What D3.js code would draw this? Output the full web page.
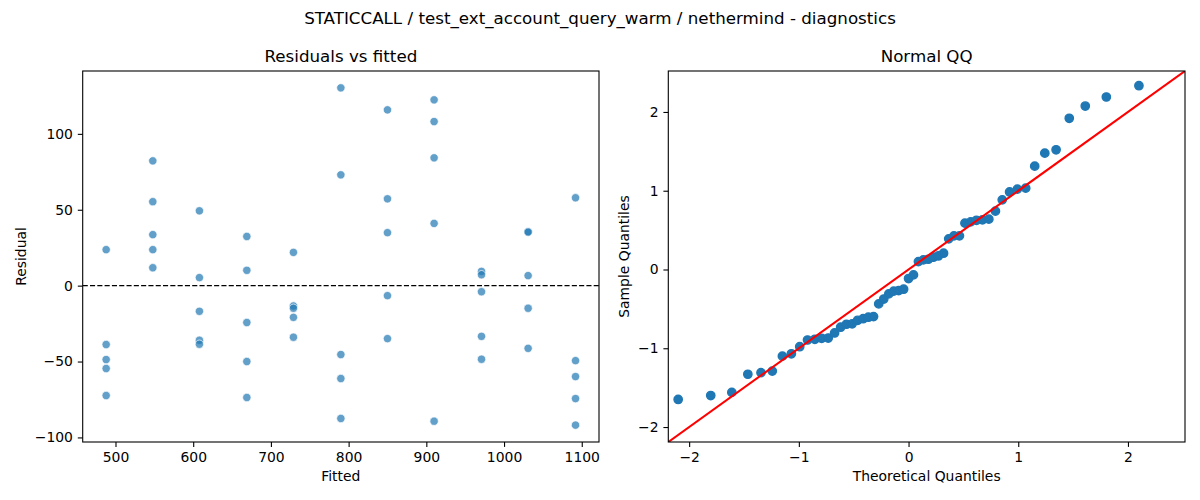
<!DOCTYPE html>
<html>
<head>
<meta charset="utf-8">
<script src="https://cdn.jsdelivr.net/npm/d3@7"></script>
<style>
  html, body { margin: 0; padding: 0; background: #fff; }
  svg { display: block; font-family: "DejaVu Sans", sans-serif; }
</style>
</head>
<body>
<svg id="chart" width="1200" height="500"></svg>
<script>
// ---- Data ----
const fittedLevels = [488, 548, 608, 669, 729, 790, 850, 910, 971, 1031, 1092];
const residualsByLevel = [
  [23.7, -38.8, -48.7, -54.6, -72.4],
  [82.2, 55.3, 33.6, 23.7, 11.8],
  [49.3, 5.3, -16.9, -36.0, -38.6],
  [32.4, 10.1, -24.3, -50.0, -73.7],
  [21.9, -13.4, -14.9, -20.9, -34.0],
  [130.3, 73.0, -45.4, -61.2, -87.5],
  [115.8, 57.2, 34.9, -6.6, -34.9],
  [122.4, 108.1, 84.2, 41.0, -89.3],
  [9.4, 7.2, -4.0, -33.4, -48.5],
  [35.5, 35.3, 6.6, -14.9, -41.3],
  [57.9, -49.4, -59.9, -74.4, -91.9]
];
const theoreticalQ = [
  -2.100, -1.803, -1.611, -1.465, -1.345, -1.242, -1.150, -1.068, -0.992, -0.921,
  -0.854, -0.792, -0.732, -0.674, -0.619, -0.566, -0.514, -0.464, -0.414, -0.366,
  -0.319, -0.272, -0.226, -0.180, -0.135, -0.090, -0.045, 0.000, 0.045, 0.090,
  0.135, 0.180, 0.226, 0.272, 0.319, 0.366, 0.414, 0.464, 0.514, 0.566,
  0.619, 0.674, 0.732, 0.792, 0.854, 0.921, 0.992, 1.068, 1.150, 1.242,
  1.345, 1.465, 1.611, 1.803, 2.100
];
const sampleQ = [
  -1.650, -1.600, -1.560, -1.330, -1.310, -1.290, -1.100, -1.070, -0.980, -0.895,
  -0.886, -0.873, -0.870, -0.806, -0.733, -0.695, -0.690, -0.645, -0.625, -0.606,
  -0.598, -0.437, -0.375, -0.310, -0.275, -0.268, -0.250, -0.115, -0.069, 0.100,
  0.122, 0.130, 0.156, 0.172, 0.207, 0.389, 0.427, 0.427, 0.588, 0.605,
  0.625, 0.630, 0.639, 0.741, 0.884, 0.984, 1.020, 1.033, 1.312, 1.477,
  1.520, 1.920, 2.075, 2.190, 2.333
];
const leftXTicks = [500, 600, 700, 800, 900, 1000, 1100];
const leftYTicks = [-100, -50, 0, 50, 100];
const qqTicks = [-2, -1, 0, 1, 2];

const suptitle = "STATICCALL / test_ext_account_query_warm / nethermind - diagnostics";

// ---- Layout ----
const svg = d3.select("#chart");
const tickFont = 13.9, titleFont = 16.7;
const L = {x0: 82.7, x1: 599, y0: 71, y1: 442};
const R = {x0: 668.3, x1: 1185, y0: 71, y1: 442};

svg.append("text").attr("x", 600).attr("y", 24).attr("text-anchor", "middle")
  .attr("font-size", titleFont).attr("fill", "#000").text(suptitle);

function styleAxis(g) {
  g.selectAll("path.domain").remove();
  g.selectAll(".tick line").attr("stroke", "#000").attr("stroke-width", 1.1);
  g.selectAll(".tick text").attr("font-size", tickFont).attr("fill", "#000")
    .attr("font-family", "DejaVu Sans, sans-serif");
}

function frame(B, clipId) {
  svg.append("clipPath").attr("id", clipId).append("rect")
    .attr("x", B.x0).attr("y", B.y0).attr("width", B.x1 - B.x0).attr("height", B.y1 - B.y0);
}
function border(B) {
  svg.append("rect").attr("x", B.x0).attr("y", B.y0).attr("width", B.x1 - B.x0)
    .attr("height", B.y1 - B.y0).attr("fill", "none").attr("stroke", "#000").attr("stroke-width", 1.1);
}

// ---- Left: residuals vs fitted ----
const allFitted = fittedLevels;
const allRes = residualsByLevel.flat();
const fxMin = d3.min(allFitted), fxMax = d3.max(allFitted);
const ryMin = d3.min(allRes), ryMax = d3.max(allRes);
const xL = d3.scaleLinear().domain([fxMin - 0.05 * (fxMax - fxMin), fxMax + 0.05 * (fxMax - fxMin)]).range([L.x0, L.x1]);
const yL = d3.scaleLinear().domain([ryMin - 0.05 * (ryMax - ryMin), ryMax + 0.05 * (ryMax - ryMin)]).range([L.y1, L.y0]);

frame(L, "clipL");
const pts = [];
fittedLevels.forEach((f, i) => residualsByLevel[i].forEach(r => pts.push({f, r})));

const gL = svg.append("g").attr("clip-path", "url(#clipL)");
gL.append("line").attr("x1", L.x0).attr("x2", L.x1).attr("y1", yL(0)).attr("y2", yL(0))
  .attr("stroke", "#000").attr("stroke-width", 1.39).attr("stroke-dasharray", "5.1,2.2");
gL.selectAll("circle").data(pts).enter().append("circle")
  .attr("cx", d => xL(d.f)).attr("cy", d => yL(d.r)).attr("r", 4.17)
  .attr("fill", "#1f77b4").attr("fill-opacity", 0.7)
  .attr("stroke", "#fff").attr("stroke-width", 0.67);

svg.append("g").attr("transform", `translate(0,${L.y1})`)
  .call(d3.axisBottom(xL).tickValues(leftXTicks).tickSize(4.9).tickPadding(4.9).tickFormat(d3.format("d")))
  .call(styleAxis);
svg.append("g").attr("transform", `translate(${L.x0},0)`)
  .call(d3.axisLeft(yL).tickValues(leftYTicks).tickSize(4.9).tickPadding(4.9).tickFormat(d3.format("d")))
  .call(styleAxis);
border(L);

svg.append("text").attr("x", (L.x0 + L.x1) / 2).attr("y", 62).attr("text-anchor", "middle")
  .attr("font-size", titleFont).text("Residuals vs fitted");
svg.append("text").attr("x", (L.x0 + L.x1) / 2).attr("y", 481).attr("text-anchor", "middle")
  .attr("font-size", tickFont).text("Fitted");
svg.append("text").attr("transform", `translate(26,${(L.y0 + L.y1) / 2}) rotate(-90)`)
  .attr("text-anchor", "middle").attr("font-size", tickFont).text("Residual");

// ---- Right: Normal QQ ----
const qLo = -2.19, qHi = 2.52;
const xR = d3.scaleLinear().domain([qLo, qHi]).range([R.x0, R.x1]);
const yR = d3.scaleLinear().domain([qLo, qHi]).range([R.y1, R.y0]);
frame(R, "clipR");
const gR = svg.append("g").attr("clip-path", "url(#clipR)");
const qq = theoreticalQ.map((t, i) => ({t, s: sampleQ[i]}));
gR.selectAll("circle").data(qq).enter().append("circle")
  .attr("cx", d => xR(d.t)).attr("cy", d => yR(d.s)).attr("r", 4.17)
  .attr("fill", "#1f77b4").attr("stroke", "#1f77b4").attr("stroke-width", 1.39);
gR.append("line").attr("x1", xR(qLo)).attr("y1", yR(qLo)).attr("x2", xR(qHi)).attr("y2", yR(qHi))
  .attr("stroke", "#ff0000").attr("stroke-width", 2.08);

svg.append("g").attr("transform", `translate(0,${R.y1})`)
  .call(d3.axisBottom(xR).tickValues(qqTicks).tickSize(4.9).tickPadding(4.9).tickFormat(d3.format("d")))
  .call(styleAxis);
svg.append("g").attr("transform", `translate(${R.x0},0)`)
  .call(d3.axisLeft(yR).tickValues(qqTicks).tickSize(4.9).tickPadding(4.9).tickFormat(d3.format("d")))
  .call(styleAxis);
border(R);

svg.append("text").attr("x", (R.x0 + R.x1) / 2).attr("y", 62).attr("text-anchor", "middle")
  .attr("font-size", titleFont).text("Normal QQ");
svg.append("text").attr("x", (R.x0 + R.x1) / 2).attr("y", 481).attr("text-anchor", "middle")
  .attr("font-size", tickFont).text("Theoretical Quantiles");
svg.append("text").attr("transform", `translate(629,${(R.y0 + R.y1) / 2}) rotate(-90)`)
  .attr("text-anchor", "middle").attr("font-size", tickFont).text("Sample Quantiles");
</script>
</body>
</html>
